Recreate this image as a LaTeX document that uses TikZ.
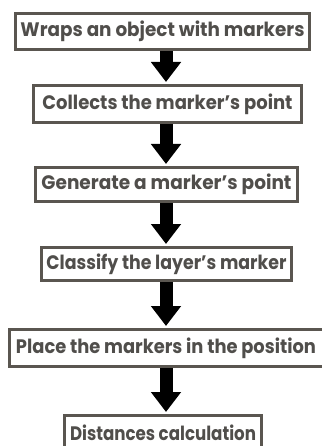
\documentclass[tikz,border=0pt]{standalone}
\usepackage{fontspec}
\setmainfont{Poppins}
\usetikzlibrary{arrows.meta}
\definecolor{boxline}{HTML}{5A5650}
\definecolor{boxtext}{HTML}{504E4B}
\tikzset{
  stepbox/.style={draw=boxline, line width=3pt, inner sep=0pt, fill=white,
    font=\fontsize{19.5}{22}\selectfont\bfseries, text=boxtext},
  flowarrow/.style={draw=black, line width=13pt,
    -{Triangle[width=29pt,length=20pt]}}
}
\newcommand{\fitto}[2]{\resizebox{#1}{\height}{#2}}
\begin{document}
\begin{tikzpicture}[x=1pt,y=1pt]
\useasboundingbox (0,0) rectangle (321,-446);
\node[stepbox, minimum width=294pt, minimum height=36pt] (b1) at (162.5,-31.5) {\fitto{284pt}{Wraps an object with markers}};
\node[stepbox, minimum width=268pt, minimum height=37pt] (b2) at (167.5,-104) {\fitto{250pt}{Collects the marker’s point}};
\node[stepbox, minimum width=262pt, minimum height=34pt] (b3) at (166.5,-184.5) {\fitto{250pt}{Generate a marker’s point}};
\node[stepbox, minimum width=250pt, minimum height=33pt] (b4) at (166.5,-264) {\fitto{240pt}{Classify the layer’s marker}};
\node[stepbox, minimum width=322pt, minimum height=37pt] (b5) at (170.5,-348) {\hspace*{-9pt}\fitto{300pt}{Place the markers in the position}};
\node[stepbox, minimum width=197pt, minimum height=38pt] (b6) at (163,-434.5) {\raisebox{4pt}{\fitto{186pt}{Distances calculation}}};
\coordinate (ax) at (166,0);
\draw[flowarrow] (b1.south -| ax) -- ([yshift=2pt]b2.north -| ax);
\draw[flowarrow] (b2.south -| ax) -- ([yshift=2pt]b3.north -| ax);
\draw[flowarrow] (b3.south -| ax) -- ([yshift=2pt]b4.north -| ax);
\draw[flowarrow] (b4.south -| ax) -- ([yshift=2pt]b5.north -| ax);
\draw[flowarrow] (b5.south -| ax) -- ([yshift=2pt]b6.north -| ax);
\end{tikzpicture}
\end{document}
